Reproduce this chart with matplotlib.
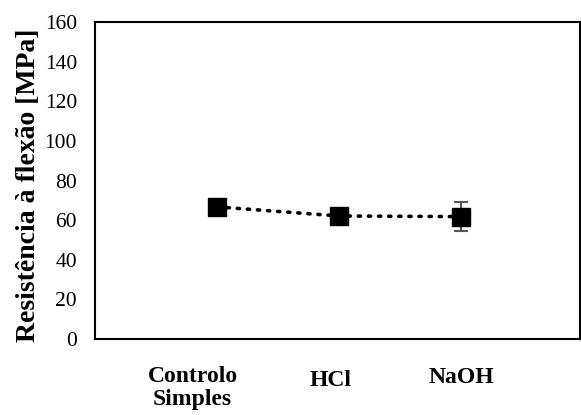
import matplotlib.pyplot as plt
from matplotlib import transforms

plt.rcParams['font.family'] = ['Liberation Serif', 'DejaVu Serif']

categories = ["Controlo\nSimples", "HCl", "NaOH"]
resistencia = [66.7, 62.1, 61.8]
erro = [1.0, 1.0, 7.2]

fig = plt.figure(figsize=(5.81, 4.15), dpi=100)
ax = fig.add_axes([0.1635, 0.183, 0.8345, 0.764])

x = [1, 2, 3]
ax.errorbar(x, resistencia, yerr=erro, fmt='none', ecolor='#595959',
            elinewidth=1.5, capsize=5, capthick=1.5, zorder=2)
ax.plot(x, resistencia, linestyle=(0, (0.6, 2.2)), color='black', linewidth=2.6,
        dash_capstyle='round', marker='s', markersize=13, markerfacecolor='black',
        markeredgecolor='black', zorder=3)

ax.set_xlim(0, 3.97)
ax.set_ylim(0, 160)
ax.set_yticks(range(0, 161, 20))
ax.tick_params(axis='y', length=0, labelsize=15.5, pad=13)
ax.set_xticks([])
for s in ax.spines.values():
    s.set_linewidth(1.5)

ax.set_ylabel("Resistência à flexão [MPa]", fontsize=20, fontweight='bold')
ax.yaxis.set_label_coords(-0.112, 0.486)

# category labels placed under the axis, shifted like the original
trans = transforms.blended_transform_factory(ax.transData, ax.transAxes)
offsets = [(-0.20, -0.085), (-0.07, -0.098), (0.0, -0.088)]
for xi, lab, (dx, dy) in zip(x, categories, offsets):
    ax.text(xi + dx, dy, lab, transform=trans, ha='center', va='top',
            fontsize=17, fontweight='bold', linespacing=1.15)

fig.savefig("out.png", dpi=100)
